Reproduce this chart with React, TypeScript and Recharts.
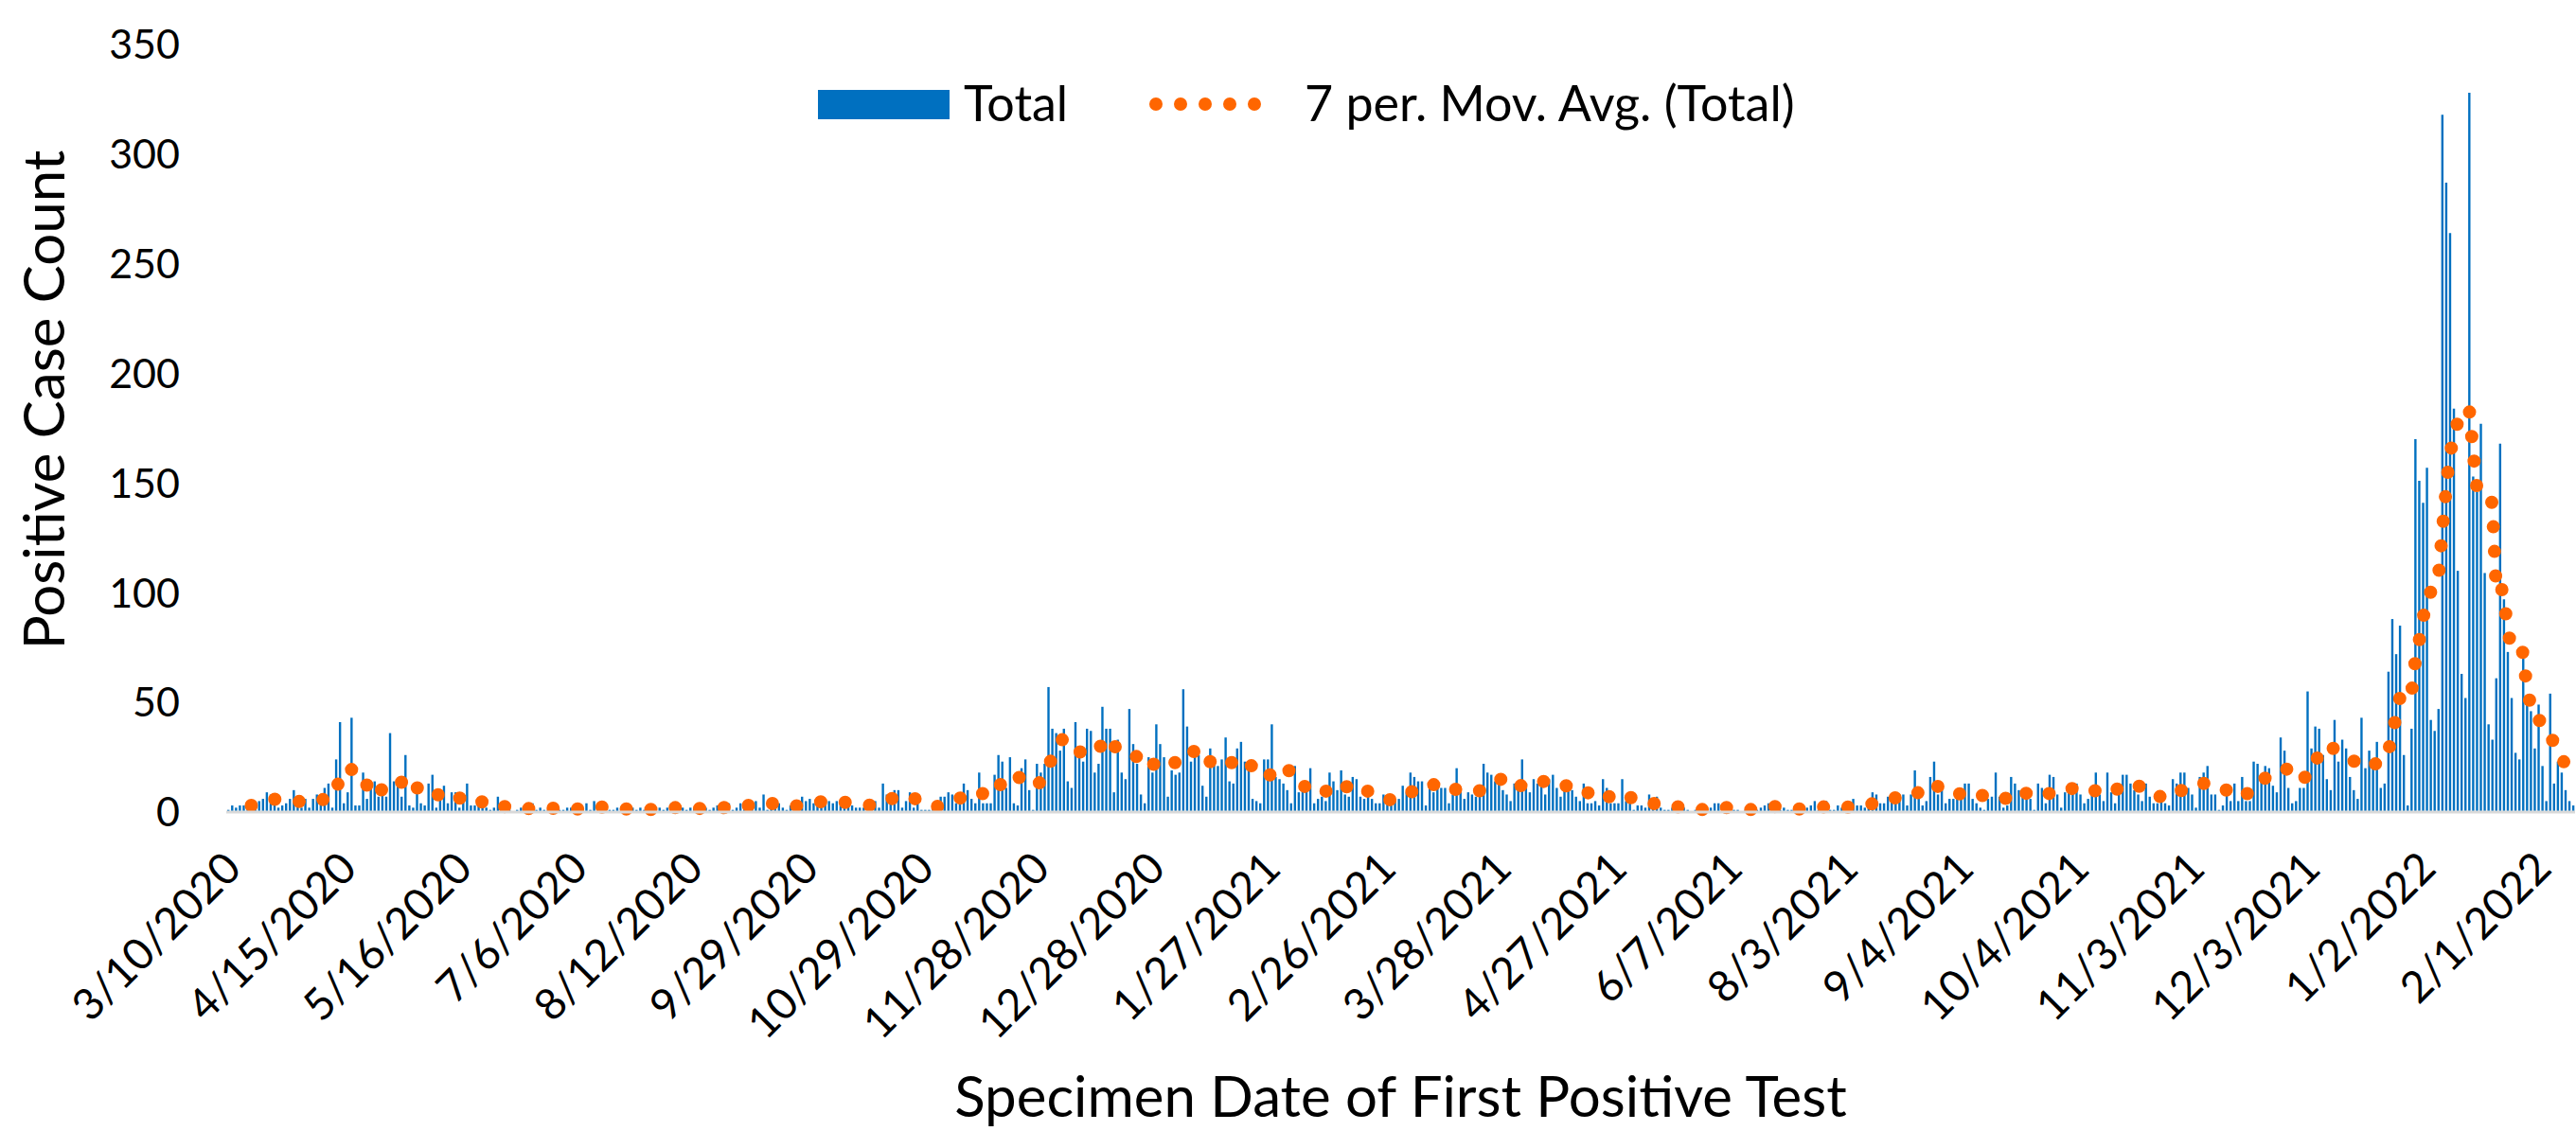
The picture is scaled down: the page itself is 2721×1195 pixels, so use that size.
import React from 'react';
import { ComposedChart, Bar, Line, XAxis, YAxis, Legend } from 'recharts';

const FONT = 'Lato, "Open Sans", sans-serif';
const BLUE = '#0070C0';
const ORANGE = '#FF6600';
const AXIS_GRAY = '#D9D9D9';

// one label every 30 categories (dates without cases are skipped in the source sheet)
const TICK_LABELS = [
  '3/10/2020', '4/15/2020', '5/16/2020', '7/6/2020', '8/12/2020', '9/29/2020',
  '10/29/2020', '11/28/2020', '12/28/2020', '1/27/2021', '2/26/2021', '3/28/2021',
  '4/27/2021', '6/7/2021', '8/3/2021', '9/4/2021', '10/4/2021', '11/3/2021',
  '12/3/2021', '1/2/2022', '2/1/2022',
];
const TICK_STEP = 30;
const Y_TICKS = [0, 50, 100, 150, 200, 250, 300, 350];

// daily positive case counts
const SPRING_2020 = [
  1, 3, 2, 3, 3, 4, 5, 3,
  5, 6, 9, 8, 5, 2, 3, 4, 6, 10,
  5, 2, 6, 2, 6, 8, 7, 11, 13, 2,
  24, 41, 4, 9, 43, 3, 3, 18, 6, 14,
  14, 7, 10, 7, 36, 14, 14, 7, 26, 3,
  2, 12, 4, 3, 13, 17, 2, 6, 12, 4,
  9, 9, 2, 5, 13, 3, 3, 4, 2, 2,
];

const SUMMER_FALL_2020 = [
  1, 2, 7, 1, 2, 1, 0, 1, 2, 1,
  4, 4, 1, 2, 1, 1, 0, 2, 1, 1,
  2, 2, 1, 1, 2, 4, 1, 5, 1, 2,
  1, 1, 1, 2, 2, 1, 1, 2, 1, 2,
  1, 1, 0, 1, 2, 1, 2, 4, 4, 1,
  2, 1, 2, 2, 1, 1, 2, 1, 2, 3,
  2, 4, 4, 1, 2, 4, 2, 4, 4, 5,
  2, 8, 1, 3, 4, 4, 2, 1, 3, 3,
  3, 7, 5, 6, 4, 3, 5, 5, 5, 4,
  5, 4, 3, 5, 3, 2, 2, 2, 5, 3,
  5, 2, 13, 8, 5, 10, 10, 2, 5, 9,
  2, 4, 1, 1, 1, 3, 5, 7, 7, 9,
  8, 4, 4, 13, 10, 6, 4, 18, 4, 4,
  4, 17, 26, 23,
];

const WINTER_2020_21 = [
  11, 25, 4, 3, 20, 24, 10, 1, 22, 18,
  22, 57, 38, 36, 28, 38, 14, 11, 41, 27,
  23, 38, 37, 18, 22, 48, 38, 38, 9, 33,
  18, 15, 47, 31, 22, 8, 4, 25, 18, 40,
  31, 25, 7, 19, 17, 18, 56, 39, 23, 25,
  26, 12, 7, 29, 25, 21, 24, 34, 14, 13,
  29, 32, 23, 23, 6, 5, 4, 24, 24, 40,
  16, 15, 13, 10, 4, 21, 9, 11, 13, 20,
  4, 6, 7, 5, 18, 14, 10, 19, 8, 7,
  16, 15, 7, 6, 7, 6, 4, 4, 8, 6,
];

const SPRING_SUMMER_2021 = [
  4, 6, 6, 12, 9, 18, 16, 14, 14, 3,
  14, 9, 11, 11, 11, 4, 8, 20, 10, 6,
  9, 8, 7, 8, 22, 18, 17, 14, 17, 10,
  8, 5, 13, 10, 24, 13, 9, 15, 13, 15,
  8, 15, 17, 11, 7, 13, 11, 10, 7, 5,
  13, 4, 4, 5, 3, 15, 11, 4, 4, 4,
  15, 5, 6, 1, 3, 3, 2, 8, 4, 7,
  2, 1, 1,
  2, 1, 1, 2, 1, 0, 1, 2, 1, 1,
  2, 4, 4, 1, 1, 2, 1, 1, 0, 1,
  2, 1, 1, 2, 3, 4, 4, 3, 1, 2, 1,
];

const FALL_2021 = [
  1, 1, 1, 1, 2, 3, 5, 1, 2, 5, 1, 1, 3, 2, 2, 2, 6, 3, 3, 2, 2,
  9, 8, 4, 4, 7, 6, 8, 8, 8, 3,
  8, 19, 8, 3, 5, 16, 23, 8, 10, 4,
  6, 6, 10, 10, 13, 13, 6, 4, 2, 1,
  6, 7, 18, 7, 2, 3, 16, 13, 10, 8,
  8, 6, 1, 13, 11, 4, 17, 16, 8, 2,
  9, 13, 11, 13, 8, 4, 6, 9, 18, 8,
  5, 18, 9, 4, 13, 17, 17, 13, 10, 8,
  5, 13, 7, 4, 4, 8, 4, 3, 15, 13,
  18, 18, 11, 8, 2, 16, 18, 21, 8, 8,
  1, 3, 11, 5, 13, 5, 16, 5, 5, 23,
  22, 16, 21, 20, 12, 9, 34, 28, 11, 4,
  5, 11, 11, 55, 29, 39, 38, 26, 15, 10,
  42, 23, 33, 29, 16, 10, 6, 43, 20, 28,
  20, 32, 11, 13, 64,
];

const OMICRON_2022 = [
  88, 72, 85, 26, 3, 38, 170, 151, 141, 157,
  42, 37, 47, 318, 287, 264, 184, 110, 63, 52,
  328, 153, 146, 177, 109, 40, 33, 61, 168, 97,
  73, 52, 27, 24, 70, 49, 46, 29, 49, 21,
  5, 54, 13, 23, 18, 10, 5, 3,
];

const TOTAL = [
  ...SPRING_2020,
  ...SUMMER_FALL_2020,
  ...WINTER_2020_21,
  ...SPRING_SUMMER_2021,
  ...FALL_2021,
  ...OMICRON_2022,
];

const PERIOD = 7;

// Excel-style trailing moving average (first value at the 7th point)
const data = TOTAL.map((total, idx) => {
  let avg: number | null = null;
  if (idx >= PERIOD - 1) {
    const win = TOTAL.slice(idx - PERIOD + 1, idx + 1);
    avg = win.reduce((s, v) => s + v, 0) / PERIOD;
  }
  return { idx, total, avg };
});

function DateTick({ x, y, payload }: any) {
  const label = TICK_LABELS[Math.round(payload.value / TICK_STEP)];
  const px = x + 16;
  const py = y + 62;
  return (
    <text
      x={px}
      y={py}
      transform={`rotate(-45 ${px} ${py})`}
      textAnchor="end"
      fontSize={46}
      fontFamily={FONT}
      fill="#000"
    >
      {label}
    </text>
  );
}

function XTitle({ viewBox }: any) {
  const { x, y, width, height } = viewBox;
  return (
    <text x={x + width / 2} y={y + height - 15} textAnchor="middle" fontSize={60} fontFamily={FONT} fill="#000">
      Specimen Date of First Positive Test
    </text>
  );
}

function YTitle({ viewBox }: any) {
  const { y, height } = viewBox;
  const cx = 68;
  const cy = y + height / 2 - 30;
  return (
    <text
      x={cx}
      y={cy}
      transform={`rotate(-90 ${cx} ${cy})`}
      textAnchor="middle"
      fontSize={60}
      fontFamily={FONT}
      fill="#000"
    >
      Positive Case Count
    </text>
  );
}

function LegendContent() {
  return (
    <svg width={1080} height={50} style={{ overflow: 'visible', display: 'block' }}>
      <rect x={0} y={8} width={139} height={31} fill={BLUE} />
      <text x={154} y={41} fontSize={52} fontFamily={FONT} fill="#000">
        Total
      </text>
      <line
        x1={357}
        x2={487}
        y1={23}
        y2={23}
        stroke={ORANGE}
        strokeWidth={14}
        strokeDasharray="0 26"
        strokeLinecap="round"
      />
      <text x={514} y={41} fontSize={52} fontFamily={FONT} fill="#000">
        7 per. Mov. Avg. (Total)
      </text>
    </svg>
  );
}

export default function App() {
  return (
    <div style={{ position: 'absolute', left: 0, top: 0, width: 2721, height: 1195, background: '#fff' }}>
      <ComposedChart
        width={2721}
        height={1195}
        data={data}
        margin={{ top: 47, right: 1, left: 0, bottom: 0 }}
        style={{ fontFamily: FONT }}
      >
        <XAxis
          dataKey="idx"
          interval={TICK_STEP - 1}
          tick={<DateTick />}
          tickLine={false}
          tickSize={0}
          tickMargin={0}
          axisLine={{ stroke: AXIS_GRAY, strokeWidth: 3 }}
          height={337}
          label={(props: any) => <XTitle {...props} />}
        />
        <YAxis
          domain={[0, 350]}
          ticks={Y_TICKS}
          interval={0}
          width={239}
          axisLine={false}
          tickLine={false}
          tickSize={0}
          tickMargin={49}
          tick={{ fontSize: 43, fill: '#000', fontFamily: FONT }}
          label={(props: any) => <YTitle {...props} />}
        />
        <Legend
          content={<LegendContent />}
          layout="horizontal"
          verticalAlign="middle"
          align="center"
          wrapperStyle={{ top: 87, left: 864, width: 1080, height: 50 }}
        />
        <Bar dataKey="total" fill={BLUE} barSize={2.4} isAnimationActive={false} />
        <Line
          dataKey="avg"
          type="linear"
          stroke={ORANGE}
          strokeWidth={14}
          strokeDasharray="0 26"
          strokeLinecap="round"
          dot={false}
          activeDot={false}
          isAnimationActive={false}
        />
      </ComposedChart>
    </div>
  );
}
